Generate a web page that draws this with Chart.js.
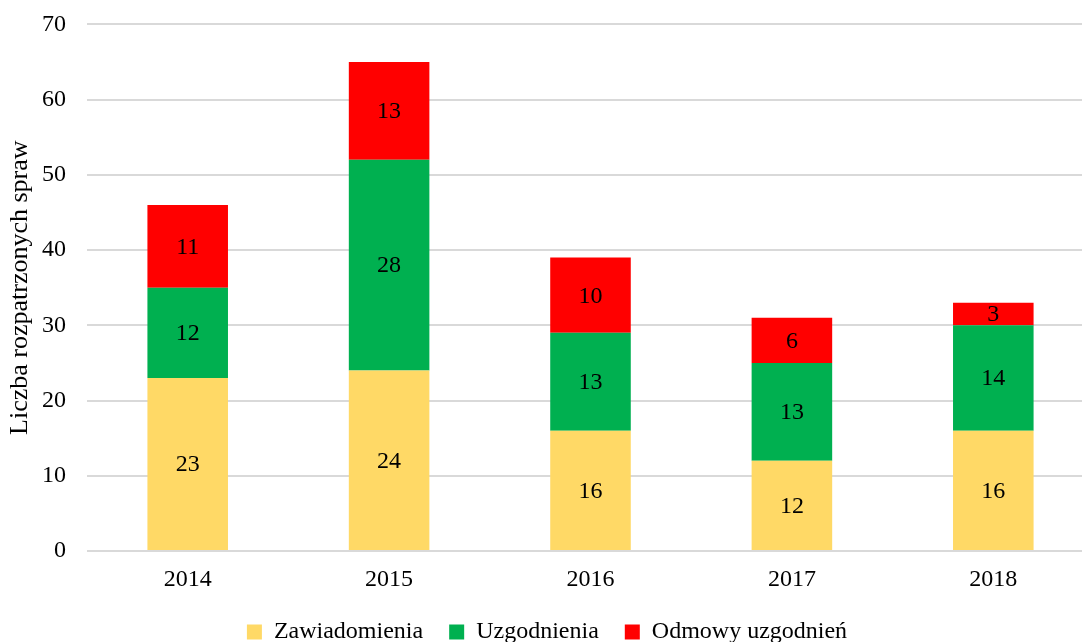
<!DOCTYPE html>
<html>
<head>
<meta charset="utf-8">
<script src="https://cdn.jsdelivr.net/npm/chart.js@4"></script>
<style>
  html, body { margin: 0; padding: 0; background: #fff; overflow: hidden; }
  #wrap { width: 1082px; height: 642px; overflow: hidden; }
  #box { width: 1094px; height: 665px; margin-top: -11px; }
</style>
</head>
<body>
<div id="wrap"><div id="box"><canvas id="chart"></canvas></div></div>
<script>
const years = ["2014", "2015", "2016", "2017", "2018"];
const zawiadomienia = [23, 24, 16, 12, 16];
const uzgodnienia = [12, 28, 13, 13, 14];
const odmowy = [11, 13, 10, 6, 3];

const font = "'Liberation Serif', 'Times New Roman', serif";

// draws the numbers in the middle of each bar segment
const barLabels = {
  id: "barLabels",
  afterDatasetsDraw(chart) {
    const ctx = chart.ctx;
    ctx.save();
    ctx.font = "24px " + font;
    ctx.fillStyle = "#000";
    ctx.textAlign = "center";
    ctx.textBaseline = "middle";
    chart.data.datasets.forEach((ds, i) => {
      chart.getDatasetMeta(i).data.forEach((bar, j) => {
        const mid = (bar.y + bar.base) / 2;
        ctx.fillText(ds.data[j], bar.x, mid + 1);
      });
    });
    ctx.restore();
  }
};

new Chart(document.getElementById("chart").getContext("2d"), {
  type: "bar",
  data: {
    labels: years,
    datasets: [
      { label: "Zawiadomienia", data: zawiadomienia, backgroundColor: "#FFD966" },
      { label: "Uzgodnienia", data: uzgodnienia, backgroundColor: "#00B050" },
      { label: "Odmowy uzgodnień", data: odmowy, backgroundColor: "#FF0000" }
    ]
  },
  options: {
    responsive: true,
    maintainAspectRatio: false,
    animation: false,
    layout: { padding: 0 },
    datasets: { bar: { barPercentage: 0.4, categoryPercentage: 1.0 } },
    scales: {
      x: {
        stacked: true,
        afterFit(scale) { scale.height = 43; },
        grid: { display: false },
        border: { display: false },
        ticks: { color: "#000", font: { family: font, size: 24 }, padding: 6 }
      },
      y: {
        stacked: true,
        min: 0,
        max: 70,
        afterFit(scale) { scale.width = 87; },
        ticks: { stepSize: 10, color: "#000", font: { family: font, size: 24 }, padding: 21 },
        grid: { color: "#D9D9D9", lineWidth: 2, drawTicks: false },
        border: { display: false },
        title: { display: true, text: "Liczba rozpatrzonych spraw", color: "#000", font: { family: font, size: 26 }, padding: { top: 5, bottom: 0 } }
      }
    },
    plugins: {
      legend: {
        position: "bottom",
        labels: { color: "#000", font: { family: font, size: 24 }, boxWidth: 15, boxHeight: 15, padding: 26 }
      },
      tooltip: { enabled: false }
    }
  },
  plugins: [barLabels]
});
</script>
</body>
</html>
